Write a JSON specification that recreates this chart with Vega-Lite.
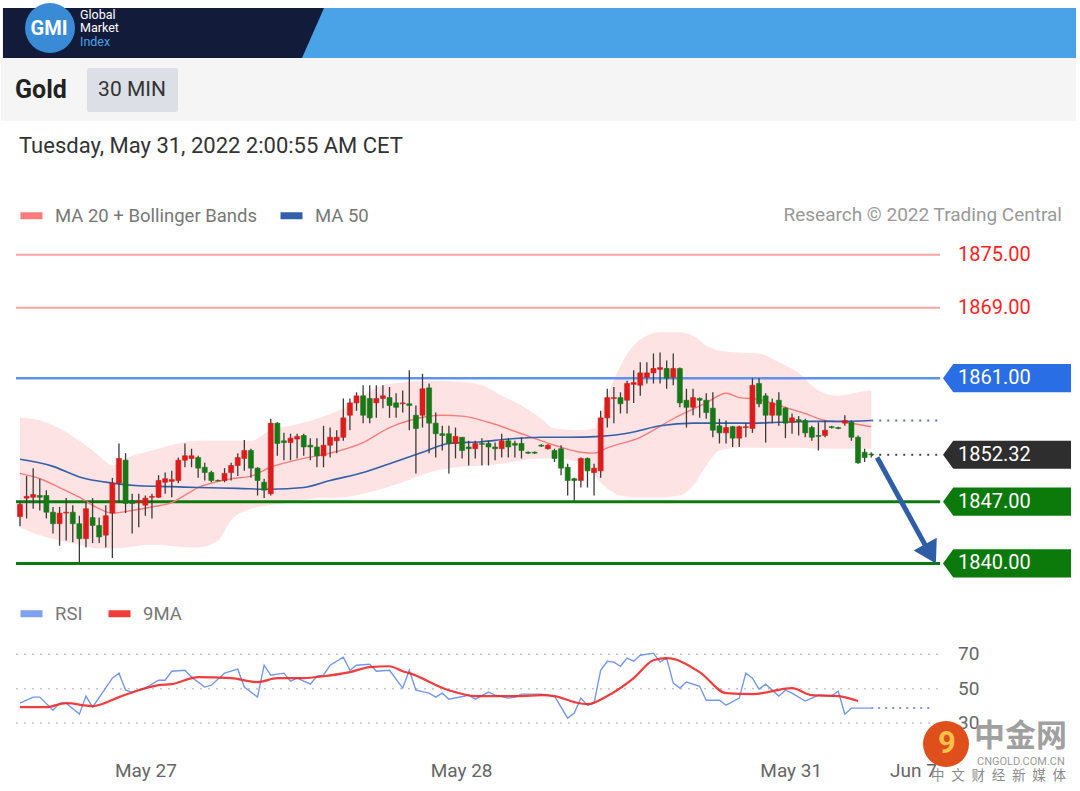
{
"$schema":"https://vega.github.io/schema/vega-lite/v6.json",
"width":1080,"height":791,
"autosize":{"type":"fit","contains":"padding"},
"padding":0,
"background":"#ffffff",
"config":{"view":{"stroke":null},"font":"Roboto","scale":{"continuousPadding":0}},
"datasets":{
"candles":[
{"i":0,"o":1845.3,"h":1847.0,"l":1844.2,"c":1846.7},
{"i":1,"o":1847.4,"h":1849.9,"l":1845.1,"c":1847.6},
{"i":2,"o":1847.5,"h":1850.8,"l":1846.2,"c":1847.8},
{"i":3,"o":1847.7,"h":1849.6,"l":1846.0,"c":1847.5},
{"i":4,"o":1847.7,"h":1848.3,"l":1845.1,"c":1845.8},
{"i":5,"o":1845.8,"h":1846.4,"l":1843.4,"c":1844.5},
{"i":6,"o":1844.5,"h":1846.4,"l":1842.0,"c":1845.7},
{"i":7,"o":1845.7,"h":1847.4,"l":1842.6,"c":1845.8},
{"i":8,"o":1845.8,"h":1846.6,"l":1842.4,"c":1844.5},
{"i":9,"o":1844.5,"h":1845.4,"l":1840.1,"c":1842.8},
{"i":10,"o":1842.8,"h":1847.1,"l":1841.8,"c":1846.2},
{"i":11,"o":1845.2,"h":1847.4,"l":1842.3,"c":1844.3},
{"i":12,"o":1844.3,"h":1845.2,"l":1842.3,"c":1843.0},
{"i":13,"o":1843.2,"h":1846.6,"l":1841.8,"c":1845.4},
{"i":14,"o":1845.7,"h":1849.7,"l":1840.6,"c":1849.1},
{"i":15,"o":1849.1,"h":1853.6,"l":1846.9,"c":1851.9},
{"i":16,"o":1851.7,"h":1852.5,"l":1845.7,"c":1846.8},
{"i":17,"o":1847.1,"h":1847.9,"l":1843.4,"c":1846.8},
{"i":18,"o":1846.9,"h":1847.9,"l":1844.1,"c":1847.1},
{"i":19,"o":1846.6,"h":1847.7,"l":1845.4,"c":1847.4},
{"i":20,"o":1847.5,"h":1847.9,"l":1845.1,"c":1847.6},
{"i":21,"o":1847.5,"h":1850.0,"l":1847.4,"c":1849.4},
{"i":22,"o":1849.2,"h":1850.3,"l":1847.9,"c":1849.6},
{"i":23,"o":1849.3,"h":1850.5,"l":1847.5,"c":1849.5},
{"i":24,"o":1849.4,"h":1852.0,"l":1849.1,"c":1851.7},
{"i":25,"o":1851.7,"h":1853.6,"l":1850.9,"c":1852.2},
{"i":26,"o":1851.9,"h":1853.0,"l":1850.9,"c":1852.2},
{"i":27,"o":1852.0,"h":1852.2,"l":1849.7,"c":1850.8},
{"i":28,"o":1850.9,"h":1851.4,"l":1849.4,"c":1850.3},
{"i":29,"o":1850.3,"h":1850.5,"l":1849.2,"c":1849.4},
{"i":30,"o":1849.4,"h":1849.5,"l":1849.3,"c":1849.35},
{"i":31,"o":1849.4,"h":1850.8,"l":1849.2,"c":1850.2},
{"i":32,"o":1850.3,"h":1851.4,"l":1849.4,"c":1851.1},
{"i":33,"o":1851.1,"h":1852.5,"l":1849.9,"c":1852.0},
{"i":34,"o":1851.9,"h":1854.0,"l":1850.5,"c":1852.8},
{"i":35,"o":1852.8,"h":1853.0,"l":1849.7,"c":1850.8},
{"i":36,"o":1850.8,"h":1850.9,"l":1847.7,"c":1849.4},
{"i":37,"o":1849.2,"h":1849.6,"l":1847.4,"c":1848.3},
{"i":38,"o":1847.9,"h":1856.4,"l":1847.7,"c":1855.9},
{"i":39,"o":1855.9,"h":1856.0,"l":1852.2,"c":1853.6},
{"i":40,"o":1853.9,"h":1854.8,"l":1851.7,"c":1853.7},
{"i":41,"o":1853.7,"h":1854.7,"l":1851.7,"c":1854.2},
{"i":42,"o":1854.1,"h":1854.7,"l":1851.9,"c":1854.4},
{"i":43,"o":1854.5,"h":1854.7,"l":1852.2,"c":1853.2},
{"i":44,"o":1853.4,"h":1854.2,"l":1851.7,"c":1853.2},
{"i":45,"o":1853.2,"h":1854.2,"l":1850.9,"c":1852.2},
{"i":46,"o":1852.2,"h":1855.6,"l":1850.9,"c":1853.4},
{"i":47,"o":1853.4,"h":1855.4,"l":1852.0,"c":1854.3},
{"i":48,"o":1853.9,"h":1855.1,"l":1852.5,"c":1854.3},
{"i":49,"o":1854.3,"h":1858.7,"l":1853.9,"c":1856.5},
{"i":50,"o":1856.8,"h":1858.7,"l":1855.1,"c":1858.2},
{"i":51,"o":1858.2,"h":1859.4,"l":1857.3,"c":1859.0},
{"i":52,"o":1859.0,"h":1860.2,"l":1855.9,"c":1856.8},
{"i":53,"o":1858.7,"h":1860.2,"l":1855.9,"c":1856.5},
{"i":54,"o":1858.2,"h":1860.2,"l":1856.5,"c":1858.7},
{"i":55,"o":1858.7,"h":1860.2,"l":1857.6,"c":1859.0},
{"i":56,"o":1858.8,"h":1860.0,"l":1856.5,"c":1857.9},
{"i":57,"o":1858.2,"h":1859.3,"l":1856.5,"c":1857.7},
{"i":58,"o":1858.1,"h":1859.6,"l":1857.1,"c":1858.2},
{"i":59,"o":1858.1,"h":1861.9,"l":1855.1,"c":1857.9},
{"i":60,"o":1856.8,"h":1857.9,"l":1850.2,"c":1855.3},
{"i":61,"o":1856.8,"h":1861.5,"l":1855.4,"c":1859.8},
{"i":62,"o":1859.9,"h":1860.4,"l":1852.5,"c":1855.9},
{"i":63,"o":1855.9,"h":1857.1,"l":1852.0,"c":1854.7},
{"i":64,"o":1854.7,"h":1855.6,"l":1852.8,"c":1854.5},
{"i":65,"o":1854.7,"h":1855.6,"l":1850.2,"c":1853.6},
{"i":66,"o":1853.6,"h":1855.4,"l":1851.9,"c":1854.4},
{"i":67,"o":1854.3,"h":1854.3,"l":1851.9,"c":1852.8},
{"i":68,"o":1853.2,"h":1853.9,"l":1851.1,"c":1853.0},
{"i":69,"o":1853.0,"h":1853.9,"l":1851.9,"c":1853.6},
{"i":70,"o":1853.6,"h":1854.2,"l":1851.1,"c":1853.5},
{"i":71,"o":1853.6,"h":1853.9,"l":1851.1,"c":1853.2},
{"i":72,"o":1853.2,"h":1853.7,"l":1851.7,"c":1853.0},
{"i":73,"o":1853.0,"h":1854.7,"l":1852.0,"c":1853.9},
{"i":74,"o":1853.9,"h":1854.2,"l":1852.0,"c":1853.2},
{"i":75,"o":1853.6,"h":1853.9,"l":1852.0,"c":1853.4},
{"i":76,"o":1853.6,"h":1854.3,"l":1851.9,"c":1852.8},
{"i":77,"o":1852.6,"h":1852.7,"l":1852.4,"c":1852.5},
{"i":78,"o":1852.6,"h":1852.7,"l":1852.4,"c":1852.5},
{"i":79,"o":1853.4,"h":1853.5,"l":1853.2,"c":1853.3},
{"i":80,"o":1853.0,"h":1853.5,"l":1852.9,"c":1853.4},
{"i":81,"o":1852.8,"h":1853.0,"l":1851.5,"c":1851.9},
{"i":82,"o":1853.0,"h":1853.4,"l":1850.0,"c":1850.8},
{"i":83,"o":1850.9,"h":1851.3,"l":1847.7,"c":1849.4},
{"i":84,"o":1849.6,"h":1849.7,"l":1847.1,"c":1849.4},
{"i":85,"o":1849.4,"h":1852.0,"l":1848.6,"c":1851.9},
{"i":86,"o":1851.9,"h":1852.0,"l":1848.6,"c":1850.5},
{"i":87,"o":1850.3,"h":1851.3,"l":1847.7,"c":1850.8},
{"i":88,"o":1850.5,"h":1857.3,"l":1849.7,"c":1856.5},
{"i":89,"o":1856.5,"h":1859.8,"l":1855.4,"c":1858.8},
{"i":90,"o":1858.7,"h":1860.0,"l":1855.9,"c":1858.8},
{"i":91,"o":1858.8,"h":1859.4,"l":1857.0,"c":1858.1},
{"i":92,"o":1858.5,"h":1860.7,"l":1857.0,"c":1860.4},
{"i":93,"o":1860.3,"h":1861.9,"l":1858.2,"c":1860.5},
{"i":94,"o":1860.2,"h":1862.8,"l":1859.0,"c":1861.6},
{"i":95,"o":1861.1,"h":1862.8,"l":1860.4,"c":1861.6},
{"i":96,"o":1861.6,"h":1863.8,"l":1860.4,"c":1862.1},
{"i":97,"o":1862.0,"h":1863.9,"l":1860.4,"c":1862.2},
{"i":98,"o":1862.1,"h":1863.0,"l":1859.8,"c":1861.0},
{"i":99,"o":1861.1,"h":1863.8,"l":1860.2,"c":1862.1},
{"i":100,"o":1862.1,"h":1862.2,"l":1857.7,"c":1858.2},
{"i":101,"o":1858.5,"h":1859.8,"l":1855.4,"c":1857.7},
{"i":102,"o":1857.7,"h":1859.8,"l":1856.8,"c":1858.8},
{"i":103,"o":1858.7,"h":1858.8,"l":1856.5,"c":1858.5},
{"i":104,"o":1858.5,"h":1859.3,"l":1856.4,"c":1857.1},
{"i":105,"o":1857.6,"h":1859.4,"l":1854.3,"c":1855.1},
{"i":106,"o":1855.6,"h":1856.4,"l":1853.6,"c":1854.8},
{"i":107,"o":1854.8,"h":1856.2,"l":1853.6,"c":1855.4},
{"i":108,"o":1855.5,"h":1855.6,"l":1853.2,"c":1854.2},
{"i":109,"o":1854.2,"h":1855.6,"l":1853.2,"c":1855.5},
{"i":110,"o":1855.4,"h":1855.9,"l":1854.3,"c":1855.5},
{"i":111,"o":1855.3,"h":1861.0,"l":1854.8,"c":1860.2},
{"i":112,"o":1860.4,"h":1861.0,"l":1857.7,"c":1858.1},
{"i":113,"o":1859.0,"h":1859.3,"l":1853.7,"c":1856.8},
{"i":114,"o":1856.8,"h":1858.7,"l":1855.9,"c":1858.2},
{"i":115,"o":1858.5,"h":1859.4,"l":1855.6,"c":1856.8},
{"i":116,"o":1857.6,"h":1857.7,"l":1854.2,"c":1855.9},
{"i":117,"o":1856.0,"h":1857.0,"l":1854.7,"c":1856.5},
{"i":118,"o":1856.3,"h":1856.7,"l":1854.5,"c":1856.1},
{"i":119,"o":1856.2,"h":1856.4,"l":1854.3,"c":1854.8},
{"i":120,"o":1855.4,"h":1855.6,"l":1853.9,"c":1854.3},
{"i":121,"o":1854.5,"h":1856.0,"l":1852.8,"c":1854.4},
{"i":122,"o":1854.5,"h":1856.2,"l":1854.3,"c":1855.1},
{"i":123,"o":1855.5,"h":1855.6,"l":1855.3,"c":1855.4},
{"i":124,"o":1855.4,"h":1855.5,"l":1855.2,"c":1855.3},
{"i":125,"o":1855.9,"h":1856.8,"l":1855.6,"c":1856.2},
{"i":126,"o":1856.0,"h":1856.2,"l":1853.9,"c":1854.3},
{"i":127,"o":1854.3,"h":1854.5,"l":1851.3,"c":1851.4},
{"i":128,"o":1852.6,"h":1853.0,"l":1851.5,"c":1852.0},
{"i":129,"o":1852.4,"h":1852.6,"l":1852.0,"c":1852.32}
],
"band":[
{"i":0,"up":1856.5,"lo":1844.1},{"i":3,"up":1856.2,"lo":1843.2},{"i":6,"up":1855.3,"lo":1842.6},
{"i":9,"up":1853.9,"lo":1842.1},{"i":12,"up":1852.2,"lo":1841.7},{"i":14,"up":1851.1,"lo":1841.7},
{"i":16,"up":1851.9,"lo":1841.8},{"i":20,"up":1852.8,"lo":1842.1},{"i":24,"up":1853.6,"lo":1841.9},
{"i":27,"up":1853.9,"lo":1841.8},{"i":30,"up":1853.9,"lo":1842.6},{"i":32,"up":1853.9,"lo":1844.9},
{"i":35,"up":1853.9,"lo":1846.2},{"i":38,"up":1855.1,"lo":1846.6},{"i":41,"up":1855.6,"lo":1846.9},
{"i":45,"up":1856.4,"lo":1847.4},{"i":49,"up":1857.6,"lo":1847.5},{"i":52,"up":1859.0,"lo":1847.9},
{"i":55,"up":1860.2,"lo":1848.5},{"i":58,"up":1860.5,"lo":1849.2},{"i":62,"up":1860.7,"lo":1850.3},
{"i":66,"up":1860.6,"lo":1850.9},{"i":70,"up":1860.2,"lo":1851.1},{"i":73,"up":1859.0,"lo":1851.3},
{"i":76,"up":1857.9,"lo":1851.7},{"i":79,"up":1856.4,"lo":1851.9},{"i":81,"up":1855.3,"lo":1851.9},
{"i":85,"up":1855.1,"lo":1851.4},{"i":87,"up":1855.3,"lo":1850.0},{"i":89,"up":1859.0,"lo":1848.5},
{"i":91,"up":1862.4,"lo":1847.7},{"i":93,"up":1864.7,"lo":1847.5},{"i":95,"up":1865.8,"lo":1847.5},
{"i":97,"up":1866.2,"lo":1847.5},{"i":100,"up":1866.2,"lo":1847.7},{"i":102,"up":1865.8,"lo":1848.8},
{"i":104,"up":1864.7,"lo":1851.1},{"i":106,"up":1864.1,"lo":1852.8},{"i":109,"up":1863.9,"lo":1853.1},
{"i":112,"up":1863.8,"lo":1853.1},{"i":115,"up":1862.8,"lo":1853.1},{"i":118,"up":1861.6,"lo":1853.1},
{"i":121,"up":1859.6,"lo":1853.0},{"i":124,"up":1859.0,"lo":1853.0},{"i":127,"up":1859.4,"lo":1853.0},
{"i":129,"up":1859.6,"lo":1853.0}
],
"ma20":[
{"i":0,"v":1850.2,"s":"MA 20 + Bollinger Bands"},{"i":3,"v":1849.6,"s":"MA 20 + Bollinger Bands"},{"i":6,"v":1848.6,"s":"MA 20 + Bollinger Bands"},
{"i":9,"v":1847.5,"s":"MA 20 + Bollinger Bands"},{"i":12,"v":1846.2,"s":"MA 20 + Bollinger Bands"},{"i":14,"v":1845.7,"s":"MA 20 + Bollinger Bands"},
{"i":17,"v":1846.0,"s":"MA 20 + Bollinger Bands"},{"i":20,"v":1846.4,"s":"MA 20 + Bollinger Bands"},{"i":23,"v":1846.9,"s":"MA 20 + Bollinger Bands"},
{"i":27,"v":1848.6,"s":"MA 20 + Bollinger Bands"},{"i":32,"v":1849.6,"s":"MA 20 + Bollinger Bands"},{"i":35,"v":1849.9,"s":"MA 20 + Bollinger Bands"},
{"i":38,"v":1850.9,"s":"MA 20 + Bollinger Bands"},{"i":43,"v":1851.9,"s":"MA 20 + Bollinger Bands"},{"i":47,"v":1852.5,"s":"MA 20 + Bollinger Bands"},
{"i":52,"v":1853.7,"s":"MA 20 + Bollinger Bands"},{"i":56,"v":1855.4,"s":"MA 20 + Bollinger Bands"},{"i":59,"v":1856.2,"s":"MA 20 + Bollinger Bands"},
{"i":64,"v":1856.8,"s":"MA 20 + Bollinger Bands"},{"i":67,"v":1856.7,"s":"MA 20 + Bollinger Bands"},{"i":71,"v":1856.0,"s":"MA 20 + Bollinger Bands"},
{"i":76,"v":1854.7,"s":"MA 20 + Bollinger Bands"},{"i":81,"v":1853.4,"s":"MA 20 + Bollinger Bands"},{"i":85,"v":1852.6,"s":"MA 20 + Bollinger Bands"},
{"i":87,"v":1852.5,"s":"MA 20 + Bollinger Bands"},{"i":89,"v":1853.1,"s":"MA 20 + Bollinger Bands"},{"i":94,"v":1854.3,"s":"MA 20 + Bollinger Bands"},
{"i":99,"v":1856.4,"s":"MA 20 + Bollinger Bands"},{"i":104,"v":1858.2,"s":"MA 20 + Bollinger Bands"},{"i":107,"v":1859.3,"s":"MA 20 + Bollinger Bands"},
{"i":109,"v":1858.8,"s":"MA 20 + Bollinger Bands"},{"i":112,"v":1858.6,"s":"MA 20 + Bollinger Bands"},{"i":115,"v":1857.9,"s":"MA 20 + Bollinger Bands"},
{"i":119,"v":1857.0,"s":"MA 20 + Bollinger Bands"},{"i":122,"v":1856.2,"s":"MA 20 + Bollinger Bands"},{"i":125,"v":1856.0,"s":"MA 20 + Bollinger Bands"},
{"i":129,"v":1855.5,"s":"MA 20 + Bollinger Bands"}
],
"ma50":[
{"i":0,"v":1851.8,"s":"MA 50"},{"i":5,"v":1851.0,"s":"MA 50"},{"i":9,"v":1849.8,"s":"MA 50"},{"i":14,"v":1849.1,"s":"MA 50"},
{"i":18,"v":1848.8,"s":"MA 50"},{"i":23,"v":1848.7,"s":"MA 50"},{"i":27,"v":1848.6,"s":"MA 50"},{"i":33,"v":1848.5,"s":"MA 50"},
{"i":38,"v":1848.4,"s":"MA 50"},{"i":43,"v":1848.6,"s":"MA 50"},{"i":47,"v":1849.4,"s":"MA 50"},{"i":52,"v":1850.3,"s":"MA 50"},
{"i":56,"v":1851.3,"s":"MA 50"},{"i":61,"v":1852.6,"s":"MA 50"},{"i":65,"v":1853.6,"s":"MA 50"},{"i":70,"v":1853.8,"s":"MA 50"},
{"i":74,"v":1854.1,"s":"MA 50"},{"i":79,"v":1854.3,"s":"MA 50"},{"i":83,"v":1854.3,"s":"MA 50"},{"i":88,"v":1854.4,"s":"MA 50"},
{"i":93,"v":1854.9,"s":"MA 50"},{"i":97,"v":1855.6,"s":"MA 50"},{"i":102,"v":1855.9,"s":"MA 50"},{"i":106,"v":1855.9,"s":"MA 50"},
{"i":111,"v":1855.9,"s":"MA 50"},{"i":115,"v":1856.0,"s":"MA 50"},{"i":120,"v":1856.1,"s":"MA 50"},{"i":124,"v":1856.1,"s":"MA 50"},
{"i":129,"v":1856.2,"s":"MA 50"}
],
"ma50ext":[{"i":129,"v":1856.2},{"i":139.44,"v":1856.2}],
"resist":[{"lv":1875},{"lv":1869}],
"pivot":[{"lv":1861}],
"support":[{"lv":1847},{"lv":1840}],
"current":[{"lv":1852.32}],
"rsiLevels":[{"lv":70},{"lv":50},{"lv":30}],
"rsi":[
{"i":0,"v":41.6,"s":"RSI"},{"i":2,"v":45.1,"s":"RSI"},{"i":3,"v":45.1,"s":"RSI"},{"i":5,"v":37.5,"s":"RSI"},{"i":6,"v":41.6,"s":"RSI"},
{"i":7,"v":41.6,"s":"RSI"},{"i":9,"v":35.2,"s":"RSI"},{"i":10,"v":45.7,"s":"RSI"},{"i":11,"v":39.3,"s":"RSI"},{"i":14,"v":56.1,"s":"RSI"},
{"i":15,"v":59.0,"s":"RSI"},{"i":16,"v":49.1,"s":"RSI"},{"i":17,"v":48.0,"s":"RSI"},{"i":19,"v":50.3,"s":"RSI"},{"i":21,"v":54.9,"s":"RSI"},
{"i":22,"v":54.9,"s":"RSI"},{"i":23,"v":60.1,"s":"RSI"},{"i":25,"v":60.7,"s":"RSI"},{"i":26,"v":56.7,"s":"RSI"},{"i":28,"v":50.9,"s":"RSI"},
{"i":29,"v":52.0,"s":"RSI"},{"i":31,"v":59.0,"s":"RSI"},{"i":33,"v":61.3,"s":"RSI"},{"i":34,"v":50.9,"s":"RSI"},{"i":36,"v":45.1,"s":"RSI"},
{"i":37,"v":63.6,"s":"RSI"},{"i":38,"v":57.8,"s":"RSI"},{"i":40,"v":59.0,"s":"RSI"},{"i":41,"v":54.3,"s":"RSI"},{"i":42,"v":56.1,"s":"RSI"},
{"i":44,"v":52.6,"s":"RSI"},{"i":45,"v":57.2,"s":"RSI"},{"i":46,"v":57.8,"s":"RSI"},{"i":47,"v":63.6,"s":"RSI"},{"i":49,"v":68.3,"s":"RSI"},
{"i":50,"v":60.7,"s":"RSI"},{"i":51,"v":63.6,"s":"RSI"},{"i":53,"v":64.2,"s":"RSI"},{"i":54,"v":60.1,"s":"RSI"},{"i":56,"v":60.7,"s":"RSI"},
{"i":58,"v":50.3,"s":"RSI"},{"i":59,"v":60.7,"s":"RSI"},{"i":60,"v":49.1,"s":"RSI"},{"i":62,"v":47.4,"s":"RSI"},{"i":63,"v":45.1,"s":"RSI"},
{"i":64,"v":47.4,"s":"RSI"},{"i":65,"v":43.9,"s":"RSI"},{"i":68,"v":46.2,"s":"RSI"},{"i":69,"v":43.9,"s":"RSI"},{"i":71,"v":48.0,"s":"RSI"},
{"i":72,"v":46.2,"s":"RSI"},{"i":74,"v":44.5,"s":"RSI"},{"i":75,"v":45.1,"s":"RSI"},{"i":76,"v":46.8,"s":"RSI"},{"i":79,"v":46.8,"s":"RSI"},
{"i":81,"v":45.7,"s":"RSI"},{"i":83,"v":32.9,"s":"RSI"},{"i":84,"v":35.8,"s":"RSI"},{"i":85,"v":44.5,"s":"RSI"},{"i":86,"v":40.4,"s":"RSI"},
{"i":87,"v":41.6,"s":"RSI"},{"i":88,"v":60.7,"s":"RSI"},{"i":89,"v":65.9,"s":"RSI"},{"i":90,"v":65.4,"s":"RSI"},{"i":91,"v":63.0,"s":"RSI"},
{"i":92,"v":67.7,"s":"RSI"},{"i":93,"v":65.9,"s":"RSI"},{"i":94,"v":69.4,"s":"RSI"},{"i":96,"v":70.6,"s":"RSI"},{"i":97,"v":65.4,"s":"RSI"},
{"i":98,"v":67.7,"s":"RSI"},{"i":99,"v":53.2,"s":"RSI"},{"i":100,"v":50.3,"s":"RSI"},{"i":101,"v":53.8,"s":"RSI"},{"i":103,"v":51.4,"s":"RSI"},
{"i":104,"v":43.3,"s":"RSI"},{"i":106,"v":43.3,"s":"RSI"},{"i":107,"v":40.4,"s":"RSI"},{"i":109,"v":44.5,"s":"RSI"},{"i":110,"v":59.0,"s":"RSI"},
{"i":111,"v":56.1,"s":"RSI"},{"i":112,"v":49.7,"s":"RSI"},{"i":113,"v":52.6,"s":"RSI"},{"i":115,"v":45.7,"s":"RSI"},{"i":116,"v":49.1,"s":"RSI"},
{"i":117,"v":47.4,"s":"RSI"},{"i":119,"v":42.8,"s":"RSI"},{"i":120,"v":44.5,"s":"RSI"},{"i":121,"v":46.2,"s":"RSI"},{"i":123,"v":45.7,"s":"RSI"},
{"i":124,"v":48.6,"s":"RSI"},{"i":125,"v":35.2,"s":"RSI"},{"i":126,"v":38.7,"s":"RSI"},{"i":127,"v":38.7,"s":"RSI"},{"i":128,"v":38.7,"s":"RSI"},
{"i":129,"v":38.7,"s":"RSI"}
],
"rsima":[
{"i":0,"v":39.3,"s":"9MA"},{"i":4,"v":39.3,"s":"9MA"},{"i":7,"v":41.6,"s":"9MA"},{"i":11,"v":39.9,"s":"9MA"},{"i":15,"v":45.1,"s":"9MA"},
{"i":18,"v":49.1,"s":"9MA"},{"i":21,"v":52.0,"s":"9MA"},{"i":23,"v":52.6,"s":"9MA"},{"i":27,"v":56.7,"s":"9MA"},{"i":32,"v":56.1,"s":"9MA"},
{"i":36,"v":53.8,"s":"9MA"},{"i":39,"v":56.1,"s":"9MA"},{"i":43,"v":56.1,"s":"9MA"},{"i":46,"v":57.2,"s":"9MA"},{"i":50,"v":59.6,"s":"9MA"},
{"i":53,"v":62.5,"s":"9MA"},{"i":56,"v":63.0,"s":"9MA"},{"i":58,"v":60.1,"s":"9MA"},{"i":59,"v":59.0,"s":"9MA"},{"i":65,"v":49.1,"s":"9MA"},
{"i":69,"v":45.7,"s":"9MA"},{"i":76,"v":45.7,"s":"9MA"},{"i":79,"v":46.2,"s":"9MA"},{"i":81,"v":45.7,"s":"9MA"},{"i":84,"v":42.2,"s":"9MA"},
{"i":86,"v":41.0,"s":"9MA"},{"i":89,"v":45.7,"s":"9MA"},{"i":93,"v":56.1,"s":"9MA"},{"i":96,"v":66.5,"s":"9MA"},{"i":98,"v":67.7,"s":"9MA"},
{"i":103,"v":59.6,"s":"9MA"},{"i":107,"v":47.4,"s":"9MA"},{"i":111,"v":46.8,"s":"9MA"},{"i":117,"v":50.3,"s":"9MA"},{"i":120,"v":46.2,"s":"9MA"},
{"i":124,"v":45.7,"s":"9MA"},{"i":127,"v":42.8,"s":"9MA"}
],
"rsiext":[{"i":129,"v":38.7},{"i":137.9,"v":38.7}],
"dates":[{"i":19.08,"label":"May 27"},{"i":66.92,"label":"May 28"},{"i":116.88,"label":"May 31"},{"i":135.4,"label":"Jun 7"}]
},
"resolve":{"scale":{"y":"independent","color":"independent"}},
"layer":[
{
"layer":[
{"data":{"name":"band"},"mark":{"type":"area","color":"#fde3e3","opacity":1,"interpolate":"monotone"},
 "encoding":{"x":{"field":"i","type":"quantitative","scale":{"domain":[-2.877,160.64],"nice":false,"zero":false,"padding":0},"axis":null},
  "y":{"field":"up","type":"quantitative","scale":{"domain":[1814.19,1903.77],"nice":false,"zero":false},"axis":null},
  "y2":{"field":"lo"}}},
{"data":{"name":"resist"},"mark":{"type":"rule","color":"#f7a4a4","strokeWidth":2},
 "encoding":{"x":{"datum":-0.606,"type":"quantitative","scale":{"domain":[-2.877,160.64],"nice":false,"zero":false},"axis":null},"x2":{"datum":139.44},
  "y":{"field":"lv","type":"quantitative","scale":{"domain":[1814.19,1903.77],"nice":false,"zero":false},"axis":null}}},
{"data":{"name":"pivot"},"mark":{"type":"rule","color":"#5f92f0","strokeWidth":2.5},
 "encoding":{"x":{"datum":-0.606,"type":"quantitative","scale":{"domain":[-2.877,160.64],"nice":false,"zero":false},"axis":null},"x2":{"datum":139.44},
  "y":{"field":"lv","type":"quantitative","scale":{"domain":[1814.19,1903.77],"nice":false,"zero":false},"axis":null}}},
{"data":{"name":"support"},"mark":{"type":"rule","color":"#0e790e","strokeWidth":3},
 "encoding":{"x":{"datum":-0.606,"type":"quantitative","scale":{"domain":[-2.877,160.64],"nice":false,"zero":false},"axis":null},"x2":{"datum":139.44},
  "y":{"field":"lv","type":"quantitative","scale":{"domain":[1814.19,1903.77],"nice":false,"zero":false},"axis":null}}},
{"data":{"name":"ma20"},"mark":{"type":"line","strokeWidth":1.4,"interpolate":"monotone"},
 "encoding":{"x":{"field":"i","type":"quantitative","scale":{"domain":[-2.877,160.64],"nice":false,"zero":false},"axis":null},
  "y":{"field":"v","type":"quantitative","scale":{"domain":[1814.19,1903.77],"nice":false,"zero":false},"axis":null},
  "color":{"field":"s","type":"nominal","scale":{"domain":["MA 20 + Bollinger Bands","MA 50"],"range":["#f77c7c","#3360a8"]},
   "legend":{"orient":"none","legendX":16,"legendY":200,"direction":"horizontal","title":null,"symbolType":"stroke","symbolSize":484,"symbolStrokeWidth":7,"labelFontSize":18.5,"labelColor":"#777777","labelFont":"Roboto","labelOffset":9,"columnPadding":8,"padding":0,"labelLimit":400}}}},
{"data":{"name":"ma50"},"mark":{"type":"line","strokeWidth":1.6,"interpolate":"monotone"},
 "encoding":{"x":{"field":"i","type":"quantitative","scale":{"domain":[-2.877,160.64],"nice":false,"zero":false},"axis":null},
  "y":{"field":"v","type":"quantitative","scale":{"domain":[1814.19,1903.77],"nice":false,"zero":false},"axis":null},
  "color":{"field":"s","type":"nominal"}}},
{"data":{"name":"ma50ext"},"mark":{"type":"line","strokeWidth":2,"strokeDash":[2,6],"color":"#5573b5"},
 "encoding":{"x":{"field":"i","type":"quantitative","scale":{"domain":[-2.877,160.64],"nice":false,"zero":false},"axis":null},
  "y":{"field":"v","type":"quantitative","scale":{"domain":[1814.19,1903.77],"nice":false,"zero":false},"axis":null}}},
{"data":{"name":"current"},"mark":{"type":"rule","strokeWidth":2,"strokeDash":[2,6],"color":"#444444"},
 "encoding":{"x":{"datum":129,"type":"quantitative","scale":{"domain":[-2.877,160.64],"nice":false,"zero":false},"axis":null},"x2":{"datum":139.44},
  "y":{"field":"lv","type":"quantitative","scale":{"domain":[1814.19,1903.77],"nice":false,"zero":false},"axis":null}}},
{"data":{"name":"candles"},"mark":{"type":"rule","color":"#3a3a3a","strokeWidth":1.3},
 "encoding":{"x":{"field":"i","type":"quantitative","scale":{"domain":[-2.877,160.64],"nice":false,"zero":false},"axis":null},
  "y":{"field":"l","type":"quantitative","scale":{"domain":[1814.19,1903.77],"nice":false,"zero":false},"axis":null},
  "y2":{"field":"h"}}},
{"data":{"name":"candles"},"mark":{"type":"bar","size":5,"strokeWidth":0.6},
 "encoding":{"x":{"field":"i","type":"quantitative","scale":{"domain":[-2.877,160.64],"nice":false,"zero":false,"padding":0},"axis":null},
  "y":{"field":"o","type":"quantitative","scale":{"domain":[1814.19,1903.77],"nice":false,"zero":false},"axis":null},
  "y2":{"field":"c"},
  "color":{"condition":{"test":"datum.c > datum.o","value":"#dc1b1b"},"value":"#187818"},
  "stroke":{"condition":{"test":"datum.c > datum.o","value":"#dc1b1b"},"value":"#187818"}}},
{"data":{"values":[{}]},"mark":{"type":"rule","color":"#2f5ea6","strokeWidth":5},
 "encoding":{"x":{"datum":129.9,"type":"quantitative","scale":{"domain":[-2.877,160.64],"nice":false,"zero":false},"axis":null},"x2":{"datum":137.6},
  "y":{"datum":1852.0,"type":"quantitative","scale":{"domain":[1814.19,1903.77],"nice":false,"zero":false},"axis":null},"y2":{"datum":1841.5}}},
{"data":{"values":[{}]},"mark":{"type":"point","shape":"M0,0L-0.6,-1L0.6,-1Z","size":1936,"angle":-29,"filled":true,"opacity":1,"color":"#2f5ea6","strokeWidth":0},
 "encoding":{"x":{"datum":138.8,"type":"quantitative","scale":{"domain":[-2.877,160.64],"nice":false,"zero":false},"axis":null},
  "y":{"datum":1840.0,"type":"quantitative","scale":{"domain":[1814.19,1903.77],"nice":false,"zero":false},"axis":null}}},
{"data":{"name":"resist"},"mark":{"type":"text","align":"left","baseline":"middle","fontSize":20,"color":"#ff1f1f"},
 "encoding":{"x":{"datum":142.16,"type":"quantitative","scale":{"domain":[-2.877,160.64],"nice":false,"zero":false},"axis":null},
  "y":{"field":"lv","type":"quantitative","scale":{"domain":[1814.19,1903.77],"nice":false,"zero":false},"axis":null},
  "text":{"field":"lv","type":"quantitative","format":".2f"}}},
{"data":{"name":"pivot"},"mark":{"type":"point","shape":"M-1,0L-0.84,-0.22L1,-0.22L1,0.22L-0.84,0.22Z","size":16384,"filled":true,"opacity":1,"color":"#2a6ee6","strokeWidth":0},
 "encoding":{"x":{"datum":149.58,"type":"quantitative","scale":{"domain":[-2.877,160.64],"nice":false,"zero":false},"axis":null},
  "y":{"field":"lv","type":"quantitative","scale":{"domain":[1814.19,1903.77],"nice":false,"zero":false},"axis":null}}},
{"data":{"name":"current"},"mark":{"type":"point","shape":"M-1,0L-0.84,-0.22L1,-0.22L1,0.22L-0.84,0.22Z","size":16384,"filled":true,"opacity":1,"color":"#2e2e2e","strokeWidth":0},
 "encoding":{"x":{"datum":149.58,"type":"quantitative","scale":{"domain":[-2.877,160.64],"nice":false,"zero":false},"axis":null},
  "y":{"field":"lv","type":"quantitative","scale":{"domain":[1814.19,1903.77],"nice":false,"zero":false},"axis":null}}},
{"data":{"name":"support"},"mark":{"type":"point","shape":"M-1,0L-0.84,-0.22L1,-0.22L1,0.22L-0.84,0.22Z","size":16384,"filled":true,"opacity":1,"color":"#0b7a0b","strokeWidth":0},
 "encoding":{"x":{"datum":149.58,"type":"quantitative","scale":{"domain":[-2.877,160.64],"nice":false,"zero":false},"axis":null},
  "y":{"field":"lv","type":"quantitative","scale":{"domain":[1814.19,1903.77],"nice":false,"zero":false},"axis":null}}},
{"data":{"name":"pivot"},"mark":{"type":"text","align":"left","baseline":"middle","fontSize":20,"color":"#ffffff"},
 "encoding":{"x":{"datum":142.16,"type":"quantitative","scale":{"domain":[-2.877,160.64],"nice":false,"zero":false},"axis":null},
  "y":{"field":"lv","type":"quantitative","scale":{"domain":[1814.19,1903.77],"nice":false,"zero":false},"axis":null},
  "text":{"field":"lv","type":"quantitative","format":".2f"}}},
{"data":{"name":"current"},"mark":{"type":"text","align":"left","baseline":"middle","fontSize":20,"color":"#ffffff"},
 "encoding":{"x":{"datum":142.16,"type":"quantitative","scale":{"domain":[-2.877,160.64],"nice":false,"zero":false},"axis":null},
  "y":{"field":"lv","type":"quantitative","scale":{"domain":[1814.19,1903.77],"nice":false,"zero":false},"axis":null},
  "text":{"field":"lv","type":"quantitative","format":".2f"}}},
{"data":{"name":"support"},"mark":{"type":"text","align":"left","baseline":"middle","fontSize":20,"color":"#ffffff"},
 "encoding":{"x":{"datum":142.16,"type":"quantitative","scale":{"domain":[-2.877,160.64],"nice":false,"zero":false},"axis":null},
  "y":{"field":"lv","type":"quantitative","scale":{"domain":[1814.19,1903.77],"nice":false,"zero":false},"axis":null},
  "text":{"field":"lv","type":"quantitative","format":".2f"}}}
]
},
{
"layer":[
{"data":{"name":"rsiLevels"},"mark":{"type":"rule","color":"#c6c6c6","strokeWidth":1.5,"strokeDash":[2,6]},
 "encoding":{"x":{"datum":-0.606,"type":"quantitative","scale":{"domain":[-2.877,160.64],"nice":false,"zero":false},"axis":null},"x2":{"datum":139.44},
  "y":{"field":"lv","type":"quantitative","scale":{"domain":[-9.4,449.1],"nice":false,"zero":false},"axis":null}}},
{"data":{"name":"rsiLevels"},"mark":{"type":"text","align":"left","baseline":"middle","fontSize":19,"color":"#666666"},
 "encoding":{"x":{"datum":142.16,"type":"quantitative","scale":{"domain":[-2.877,160.64],"nice":false,"zero":false},"axis":null},
  "y":{"field":"lv","type":"quantitative","scale":{"domain":[-9.4,449.1],"nice":false,"zero":false},"axis":null},
  "text":{"field":"lv","type":"quantitative"}}},
{"data":{"name":"rsi"},"mark":{"type":"line","strokeWidth":1.4},
 "encoding":{"x":{"field":"i","type":"quantitative","scale":{"domain":[-2.877,160.64],"nice":false,"zero":false},"axis":null},
  "y":{"field":"v","type":"quantitative","scale":{"domain":[-9.4,449.1],"nice":false,"zero":false},"axis":null},
  "color":{"field":"s","type":"nominal","scale":{"domain":["RSI","9MA"],"range":["#7397ec","#f02828"]},
   "legend":{"orient":"none","legendX":16,"legendY":598,"direction":"horizontal","title":null,"symbolType":"stroke","symbolSize":484,"symbolStrokeWidth":7,"labelFontSize":18.5,"labelColor":"#777777","labelFont":"Roboto","labelOffset":9,"columnPadding":11,"padding":0}}}},
{"data":{"name":"rsima"},"mark":{"type":"line","strokeWidth":2.2,"interpolate":"monotone","opacity":0.9},
 "encoding":{"x":{"field":"i","type":"quantitative","scale":{"domain":[-2.877,160.64],"nice":false,"zero":false},"axis":null},
  "y":{"field":"v","type":"quantitative","scale":{"domain":[-9.4,449.1],"nice":false,"zero":false},"axis":null},
  "color":{"field":"s","type":"nominal"}}},
{"data":{"name":"rsiext"},"mark":{"type":"line","strokeWidth":2,"strokeDash":[2,5],"color":"#7397ec"},
 "encoding":{"x":{"field":"i","type":"quantitative","scale":{"domain":[-2.877,160.64],"nice":false,"zero":false},"axis":null},
  "y":{"field":"v","type":"quantitative","scale":{"domain":[-9.4,449.1],"nice":false,"zero":false},"axis":null}}},
{"data":{"name":"dates"},"mark":{"type":"text","align":"center","baseline":"middle","fontSize":19,"color":"#666666","y":770},
 "encoding":{"x":{"field":"i","type":"quantitative","scale":{"domain":[-2.877,160.64],"nice":false,"zero":false},"axis":null},
  "text":{"field":"label"}}}
]
},
{
"layer":[
{"data":{"values":[{}]},"mark":{"type":"rect","x":2,"x2":1075,"y":7,"y2":57,"color":"#4aa3e7"},"encoding":{}},
{"data":{"values":[{}]},"mark":{"type":"point","shape":"M-0.988,-0.154L0.994,-0.154L0.858,0.154L-0.988,0.154Z","x":162,"y":32,"size":104976,"filled":true,"opacity":1,"color":"#131b3a","strokeWidth":0},"encoding":{}},
{"data":{"values":[{}]},"mark":{"type":"point","shape":"circle","x":49,"y":27,"size":2500,"filled":true,"opacity":1,"color":"#3a8bd6","strokeWidth":0},"encoding":{}},
{"data":{"values":[{}]},"mark":{"type":"text","text":"GMI","x":48,"y":28,"align":"center","baseline":"middle","fontSize":20,"fontWeight":"bold","color":"#ffffff"},"encoding":{}},
{"data":{"values":[{}]},"mark":{"type":"text","text":"Global","x":79,"y":14,"align":"left","baseline":"middle","fontSize":12.5,"color":"#ffffff"},"encoding":{}},
{"data":{"values":[{}]},"mark":{"type":"text","text":"Market","x":79,"y":27,"align":"left","baseline":"middle","fontSize":12.5,"color":"#ffffff"},"encoding":{}},
{"data":{"values":[{}]},"mark":{"type":"text","text":"Index","x":79,"y":41,"align":"left","baseline":"middle","fontSize":12.5,"color":"#4aa3e7"},"encoding":{}},
{"data":{"values":[{}]},"mark":{"type":"rect","x":0,"x2":1075,"y":57,"y2":120,"color":"#f5f5f5"},"encoding":{}},
{"data":{"values":[{}]},"mark":{"type":"rect","x":86,"x2":177,"y":67,"y2":111,"color":"#dcdfe5","cornerRadius":2},"encoding":{}},
{"data":{"values":[{}]},"mark":{"type":"text","text":"Gold","x":14,"y":89,"align":"left","baseline":"middle","fontSize":25,"fontWeight":"bold","color":"#222222"},"encoding":{}},
{"data":{"values":[{}]},"mark":{"type":"text","text":"30 MIN","x":131,"y":89,"align":"center","baseline":"middle","fontSize":21,"color":"#333333"},"encoding":{}},
{"data":{"values":[{}]},"mark":{"type":"text","text":"Tuesday, May 31, 2022 2:00:55 AM CET","x":18,"y":145,"align":"left","baseline":"middle","fontSize":22,"color":"#333333"},"encoding":{}},
{"data":{"values":[{}]},"mark":{"type":"text","text":"Research © 2022 Trading Central","x":1061,"y":214,"align":"right","baseline":"middle","fontSize":19,"color":"#999999"},"encoding":{}},
{"data":{"values":[{}]},"mark":{"type":"rule","x":0,"x2":1075,"y":585,"y2":585,"color":"#e8e8e8","strokeWidth":2},"encoding":{}},
{"data":{"values":[{}]},"mark":{"type":"rule","x":1075,"x2":1075,"y":57,"y2":791,"color":"#e4e4e4","strokeWidth":2},"encoding":{}},
{"data":{"values":[{}]},"mark":{"type":"rule","x":15,"x2":935,"y":745,"y2":745,"color":"#9a9a9a","strokeWidth":2.5},"encoding":{}},
{"data":{"values":[{}]},"mark":{"type":"rule","x":15,"x2":15,"y":745,"y2":753,"color":"#9a9a9a","strokeWidth":2},"encoding":{}},
{"data":{"values":[{}]},"mark":{"type":"point","shape":"circle","x":945,"y":743,"size":2116,"filled":true,"opacity":1,"color":"#de4f1c","strokeWidth":0},"encoding":{}},
{"data":{"values":[{}]},"mark":{"type":"text","text":"9","x":946,"y":743,"align":"center","baseline":"middle","fontSize":31,"fontWeight":"bold","color":"#f8c24a"},"encoding":{}},
{"data":{"values":[{}]},"mark":{"type":"text","text":"中金网","x":973,"y":736,"align":"left","baseline":"middle","fontSize":31,"fontWeight":"bold","font":"Noto Sans CJK SC","color":"#a0a0a0"},"encoding":{}},
{"data":{"values":[{}]},"mark":{"type":"text","text":"CNGOLD.COM.CN","x":976,"y":761,"align":"left","baseline":"middle","fontSize":11,"color":"#9a9a9a"},"encoding":{}},
{"data":{"values":[{}]},"mark":{"type":"text","text":"中\u2002文\u2002财\u2002经\u2002新\u2002媒\u2002体","x":930,"y":775,"align":"left","baseline":"middle","fontSize":13.5,"font":"Noto Sans CJK SC","color":"#8a8a8a"},"encoding":{}}
]
}
]
}
